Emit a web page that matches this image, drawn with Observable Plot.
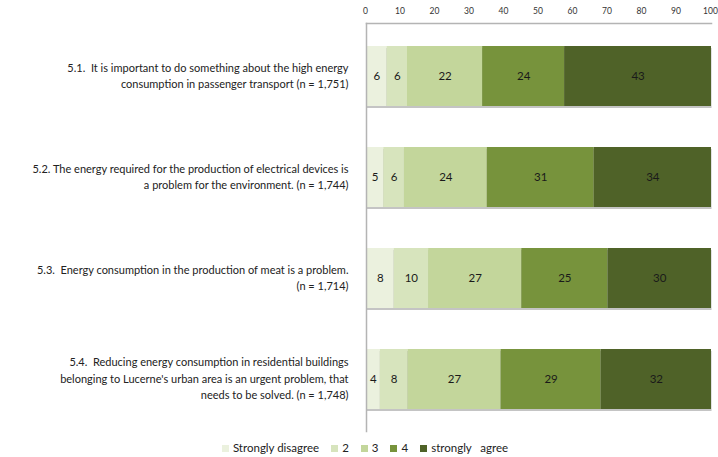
<!DOCTYPE html>
<html><head><meta charset="utf-8">
<script src="https://cdn.jsdelivr.net/npm/d3@7"></script>
<script src="https://cdn.jsdelivr.net/npm/@observablehq/plot@0.6"></script>
<style>
body{margin:0;background:#fff;font-family:Lato,"Open Sans",sans-serif;}
#legend{display:flex;justify-content:center;gap:12px;font-size:11.5px;color:#222;height:20px;align-items:center;padding-left:12px;}
#legend span.sw{display:inline-block;width:7px;height:7px;margin-right:4px;}
</style></head><body>
<div id="chart"></div>
<div id="legend"></div>
<script>
const statements = ["5.1", "5.2", "5.3", "5.4"];
const statementLabels = [
  "5.1.  It is important to do something about the high energy\nconsumption in passenger transport (n = 1,751)",
  "5.2. The energy required for the production of electrical devices is\na problem for the environment. (n = 1,744)",
  "5.3.  Energy consumption in the production of meat is a problem.\n(n = 1,714)",
  "5.4.  Reducing energy consumption in residential buildings\nbelonging to Lucerne's urban area is an urgent problem, that\nneeds to be solved. (n = 1,748)"
];
const responses = ["Strongly disagree", "2", "3", "4", "strongly   agree"];
const stronglyDisagree = [6, 5, 8, 4];
const two = [6, 6, 10, 8];
const three = [22, 24, 27, 27];
const four = [24, 31, 25, 29];
const stronglyAgree = [43, 34, 30, 32];
const xTicks = [0, 10, 20, 30, 40, 50, 60, 70, 80, 90, 100];
const colors = ["#ebf1de", "#d7e4bd", "#c3d69b", "#77933c", "#4f6228"];

const series = [stronglyDisagree, two, three, four, stronglyAgree];
const data = [];
statements.forEach((s, i) => {
  responses.forEach((r, j) => data.push({statement: s, response: r, value: series[j][i]}));
});
const labelOf = Object.fromEntries(statements.map((s, i) => [s, statementLabels[i]]));

const chart = Plot.plot({
  width: 718,
  height: 437,
  marginTop: 23,
  marginLeft: 366,
  marginRight: 7,
  marginBottom: 6,
  style: {fontFamily: "Lato, 'Open Sans', sans-serif", color: "#222"},
  x: {domain: [0, 100], transform: d => d * 100, axis: null, label: null},
  y: {domain: statements, paddingInner: 0.41, paddingOuter: 0.21, axis: null, label: null},
  color: {domain: responses, range: colors},
  marks: [
    Plot.axisX({anchor: "top", ticks: xTicks, tickSize: 0, tickPadding: 10, fontSize: 8.5, color: "#333", label: null, dx: -1}),
    Plot.axisY({anchor: "left", tickSize: 0, tickPadding: 18, tickFormat: d => labelOf[d], fontSize: 11, lineHeight: 1.5, textAnchor: "end", fill: "#222", dy: -2, label: null}),
    Plot.barX(statements, {x1: 0, x2: 1, y: d => d, fill: "#c4c4c4", dy: 2, dx: 0.5}),
    Plot.barX(data, Plot.stackX({x: "value", y: "statement", fill: "response", offset: "normalize", order: responses})),
    Plot.text(data, Plot.stackX({x: "value", y: "statement", z: "response", text: "value", offset: "normalize", order: responses, fontSize: 11.5, fill: "#1a1a1a"})),
    Plot.frame({anchor: "top", stroke: "#b4b4b4", strokeWidth: 1.5}),
    Plot.frame({anchor: "left", stroke: "#b4b4b4", strokeWidth: 1.5})
  ]
});
document.getElementById("chart").appendChild(chart);

const legend = document.getElementById("legend");
responses.forEach((r, i) => {
  const item = document.createElement("div");
  item.innerHTML = `<span class="sw" style="background:${colors[i]}"></span>${r.replace(/ /g, "&nbsp;")}`;
  legend.appendChild(item);
});
</script>
</body></html>
